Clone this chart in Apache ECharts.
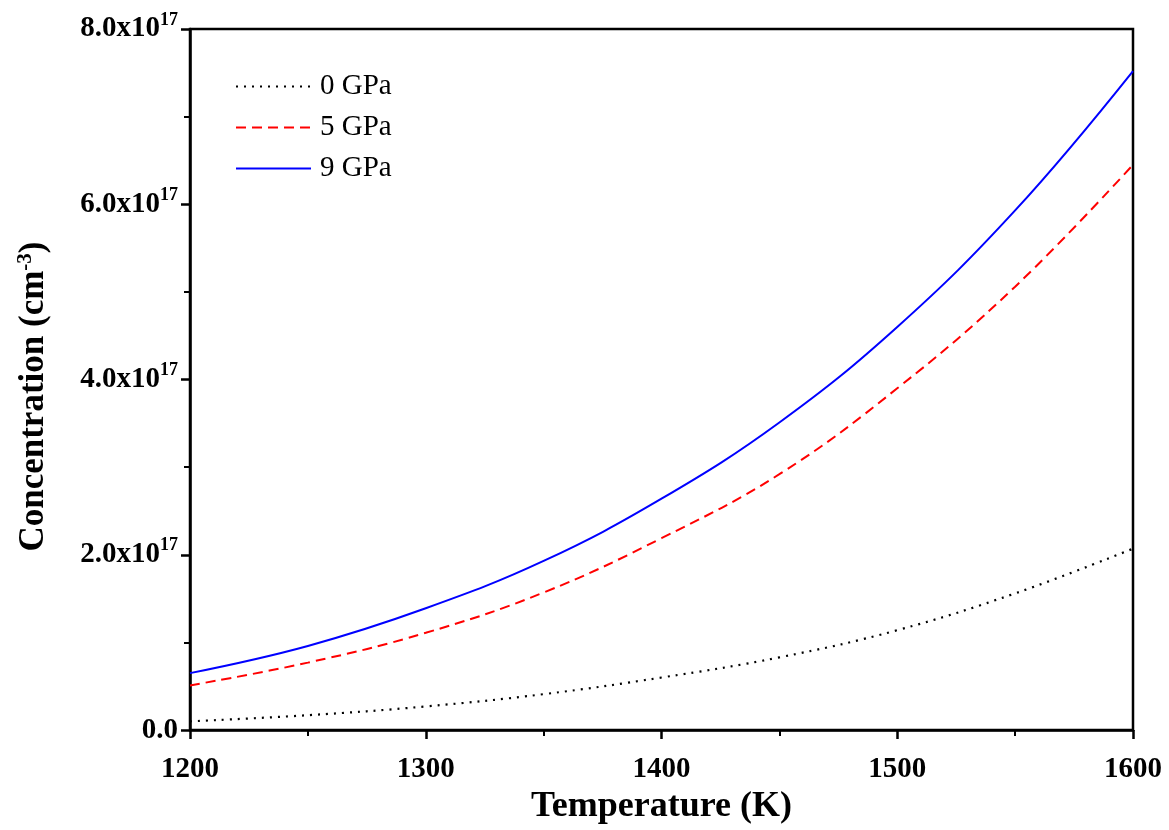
<!DOCTYPE html>
<html>
<head>
<meta charset="utf-8">
<script src="https://cdn.jsdelivr.net/npm/echarts@6/dist/echarts.min.js"></script>
<style>html,body{margin:0;padding:0;background:#fff;}#c{width:1169px;height:830px;}</style>
</head>
<body>
<div id="c"></div>
<script>
const temperatures = [1200, 1250, 1300, 1350, 1400, 1450, 1500, 1550, 1600];
const conc0GPa = [0.10e17, 0.17e17, 0.27e17, 0.41e17, 0.60e17, 0.83e17, 1.14e17, 1.56e17, 2.07e17];
const conc5GPa = [0.51e17, 0.77e17, 1.11e17, 1.57e17, 2.19e17, 2.92e17, 3.90e17, 5.06e17, 6.45e17];
const conc9GPa = [0.65e17, 0.96e17, 1.39e17, 1.93e17, 2.64e17, 3.51e17, 4.60e17, 5.93e17, 7.52e17];
const seriesNames = ['0 GPa', '5 GPa', '9 GPa'];

const FONT = '"Liberation Serif", "Times New Roman", serif';
const pair = arr => temperatures.map((t, i) => [t, arr[i]]);

const chart = echarts.init(document.getElementById('c'));
chart.setOption({
  animation: false,
  backgroundColor: '#fff',
  grid: { left: 190, right: 36, top: 29, bottom: 99, show: true, borderColor: '#000', borderWidth: 2.5, backgroundColor: 'transparent' },
  legend: {
    left: 230, top: 67, orient: 'vertical', itemGap: 12, itemWidth: 75, itemHeight: 14,
    itemStyle: { opacity: 0 },
    textStyle: { fontFamily: FONT, fontSize: 29, lineHeight: 29, color: '#000', padding: [0, 0, 0, 4] },
    data: seriesNames
  },
  xAxis: {
    type: 'value', min: 1200, max: 1600, interval: 100,
    name: 'Temperature (K)', nameLocation: 'middle', nameGap: 58,
    nameTextStyle: { fontFamily: FONT, fontSize: 36, fontWeight: 'bold', color: '#000' },
    axisLine: { show: true, lineStyle: { color: '#000', width: 2.5 } },
    axisTick: { show: true, inside: false, length: 9, lineStyle: { color: '#000', width: 2.5 } },
    minorTick: { show: true, splitNumber: 2, length: 6, lineStyle: { color: '#000', width: 2 } },
    axisLabel: { fontFamily: FONT, fontSize: 29, fontWeight: 'bold', color: '#000', margin: 25, formatter: v => String(v) },
    splitLine: { show: false }
  },
  yAxis: {
    type: 'value', min: 0, max: 8e17, interval: 2e17,
    name: 'Concentration (cm{sup|-3})', nameLocation: 'middle', nameGap: 138, nameRotate: 90,
    nameTextStyle: { fontFamily: FONT, fontSize: 35, fontWeight: 'bold', color: '#000', padding: [0, 34, 0, 0],
      rich: { sup: { fontFamily: FONT, fontSize: 21, fontWeight: 'bold', color: '#000', padding: [0, 0, 16, 0] } } },
    axisLine: { show: true, lineStyle: { color: '#000', width: 2.5 } },
    axisTick: { show: true, inside: false, length: 9, lineStyle: { color: '#000', width: 2.5 } },
    minorTick: { show: true, splitNumber: 2, length: 6, lineStyle: { color: '#000', width: 2 } },
    axisLabel: {
      margin: 12, color: '#000',
      formatter: v => v === 0 ? '{b|0.0}' : '{b|' + (v / 1e17).toFixed(1) + 'x10}{s|17}',
      rich: {
        b: { fontFamily: FONT, fontSize: 29, fontWeight: 'bold', color: '#000' },
        s: { fontFamily: FONT, fontSize: 18, fontWeight: 'bold', color: '#000', padding: [0, 0, 18, 0] }
      }
    },
    splitLine: { show: false }
  },
  series: [
    { name: seriesNames[0], type: 'line', data: pair(conc0GPa), smooth: 0.4, symbol: 'none',
      lineStyle: { color: '#000', width: 2.2, type: [2, 6] }, itemStyle: { color: '#000' } },
    { name: seriesNames[1], type: 'line', data: pair(conc5GPa), smooth: 0.4, symbol: 'none',
      lineStyle: { color: '#ff0000', width: 2, type: [10, 6] }, itemStyle: { color: '#ff0000' } },
    { name: seriesNames[2], type: 'line', data: pair(conc9GPa), smooth: 0.4, symbol: 'none',
      lineStyle: { color: '#0000ff', width: 2, type: 'solid' }, itemStyle: { color: '#0000ff' } }
  ]
});
</script>
</body>
</html>
